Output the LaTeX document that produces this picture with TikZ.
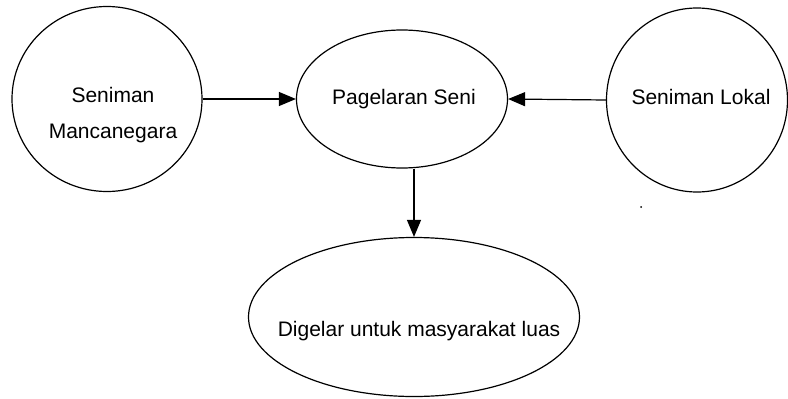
\documentclass[tikz,border=0pt]{standalone}
\usepackage{fontspec}
\setmainfont{Liberation Sans}
\usetikzlibrary{shapes.geometric,arrows.meta}
\begin{document}
\begin{tikzpicture}[x=1pt,y=-1pt,
  shapebox/.style={draw,ellipse,line width=1.2pt,inner sep=0pt},
  lbl/.style={font=\fontsize{21}{36}\selectfont,align=center,inner sep=0pt},
  conn/.style={line width=1.2pt,-{Triangle[length=17pt,width=14pt]}}]
\useasboundingbox (0,0) rectangle (788,399);
\node[shapebox,minimum width=190pt,minimum height=185pt] (sm) at (107,99) {};
\node[shapebox,minimum width=211pt,minimum height=138pt] (ps) at (402,99) {};
\node[shapebox,minimum width=181pt,minimum height=184pt] (sl) at (697,100) {};
\node[shapebox,minimum width=331pt,minimum height=159pt] (dl) at (414,317) {};
\node[lbl] (tsm) at (113,115) {Seniman\\Mancanegara};
\node[lbl] (tps) at (404,99) {Pagelaran Seni};
\node[lbl] (tsl) at (701,97) {Seniman Lokal};
\node[lbl] (tdl) at (419,331) {Digelar untuk masyarakat luas};
\draw[conn] (sm.east) -- (ps.west);
\draw[conn] (sl.west) -- (ps.east);
\draw[conn] (dl.north |- ps.south) -- (dl.north);
\fill (641,207) circle (1pt);
\end{tikzpicture}
\end{document}
